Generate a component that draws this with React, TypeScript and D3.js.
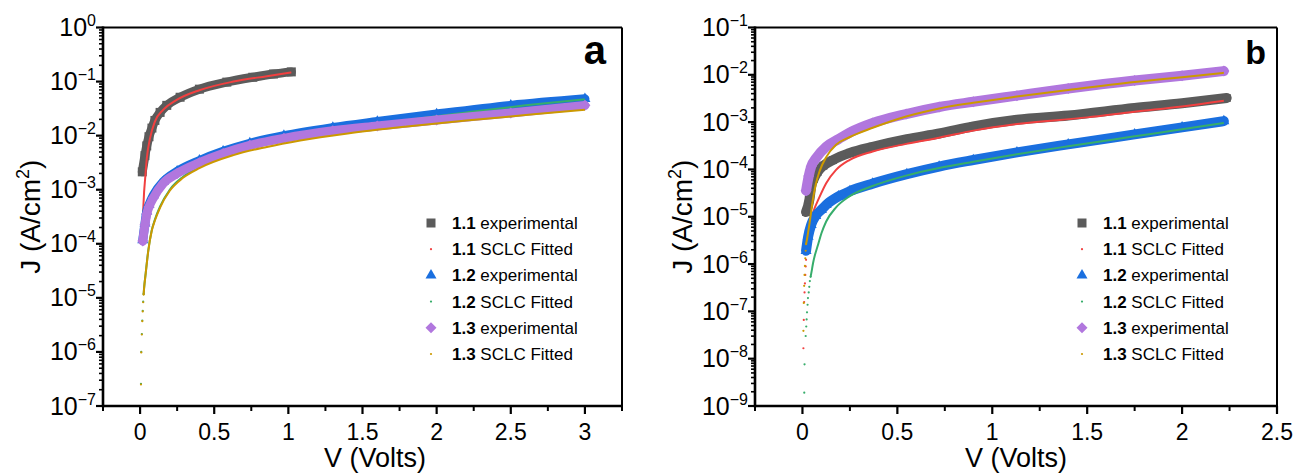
import React from 'react';
import * as d3 from 'd3';

type Pt = [number, number]; // [V (Volts), J (A/cm^2)]

// ---------------- Panel a ----------------
const a11Exp: Pt[] = [
  [0.015, 2.14e-3], [0.033, 4.27e-3], [0.045, 6.46e-3], [0.06, 9.55e-3], [0.08, 1.38e-2],
  [0.1, 1.91e-2], [0.135, 2.69e-2], [0.18, 3.63e-2], [0.27, 5.13e-2], [0.4, 7.24e-2],
  [0.585, 9.77e-2], [0.76, 0.12], [0.9, 0.138], [1.02, 0.151],
];
const a11FitDots: Pt[] = [];
const a11Fit: Pt[] = [
  [0.02, 3.72e-4], [0.027, 8.91e-4], [0.034, 1.58e-3], [0.045, 3.72e-3], [0.067, 8.91e-3],
  [0.1, 1.82e-2], [0.157, 3.02e-2], [0.247, 4.57e-2], [0.4, 6.92e-2], [0.63, 0.1],
  [0.855, 0.126], [1.02, 0.148],
];
const a12Exp: Pt[] = [
  [0.018, 1.17e-4], [0.033, 2.4e-4], [0.045, 3.98e-4], [0.06, 5.25e-4], [0.09, 7.94e-4],
  [0.157, 1.41e-3], [0.25, 2.19e-3], [0.4, 3.47e-3], [0.56, 5.13e-3], [0.74, 7.24e-3],
  [0.97, 1.0e-2], [1.3, 1.41e-2], [1.6, 1.82e-2], [2.0, 2.51e-2], [2.5, 3.63e-2], [3.0, 4.79e-2],
];
const a12FitDots: Pt[] = [
  [0.006, 2.57e-7], [0.008, 1.0e-6], [0.012, 2.14e-6], [0.015, 3.8e-6], [0.018, 5.75e-6],
  [0.021, 8.51e-6], [0.024, 1.17e-5],
];
const a12Fit: Pt[] = [
  [0.027, 1.51e-5], [0.038, 2.88e-5], [0.055, 7.41e-5], [0.078, 1.74e-4], [0.1, 2.82e-4],
  [0.135, 4.9e-4], [0.2, 1.0e-3], [0.29, 1.74e-3], [0.4, 2.69e-3], [0.63, 4.79e-3],
  [0.855, 7.08e-3], [1.08, 9.55e-3], [1.4, 1.35e-2], [1.8, 1.95e-2], [2.2, 2.69e-2],
  [2.6, 3.63e-2], [3.0, 4.68e-2],
];
const a13Exp: Pt[] = [
  [0.018, 1.12e-4], [0.033, 2.24e-4], [0.045, 3.55e-4], [0.06, 4.79e-4], [0.09, 7.08e-4],
  [0.157, 1.32e-3], [0.25, 2.0e-3], [0.4, 3.16e-3], [0.56, 4.68e-3], [0.74, 6.61e-3],
  [0.97, 8.91e-3], [1.3, 1.23e-2], [1.6, 1.51e-2], [2.0, 1.95e-2], [2.5, 2.63e-2], [3.0, 3.63e-2],
];
const a13FitDots: Pt[] = [
  [0.006, 2.5e-7], [0.008, 9.8e-7], [0.012, 2.1e-6], [0.015, 3.7e-6], [0.018, 5.6e-6],
  [0.021, 8.3e-6], [0.024, 1.15e-5],
];
const a13Fit: Pt[] = [
  [0.027, 1.48e-5], [0.038, 2.82e-5], [0.055, 7.24e-5], [0.078, 1.7e-4], [0.1, 2.69e-4],
  [0.135, 4.68e-4], [0.2, 9.55e-4], [0.29, 1.66e-3], [0.4, 2.51e-3], [0.63, 4.37e-3],
  [0.855, 6.17e-3], [1.08, 8.13e-3], [1.4, 1.1e-2], [1.8, 1.48e-2], [2.2, 1.91e-2],
  [2.6, 2.4e-2], [3.0, 3.02e-2],
];

// ---------------- Panel b ----------------
const b11Exp: Pt[] = [
  [0.019, 1.26e-5], [0.037, 2.34e-5], [0.046, 4.37e-5], [0.06, 6.31e-5], [0.08, 8.91e-5],
  [0.11, 1.2e-4], [0.16, 1.58e-4], [0.25, 2.24e-4], [0.37, 3.02e-4], [0.55, 4.37e-4],
  [0.72, 5.75e-4], [0.9, 8.13e-4], [1.13, 1.12e-3], [1.4, 1.38e-3], [1.75, 2.0e-3],
  [2.0, 2.51e-3], [2.235, 3.24e-3],
];
const b11FitDots: Pt[] = [
  [0.005, 1.66e-8], [0.007, 6.61e-8], [0.009, 1.58e-7], [0.011, 2.51e-7], [0.013, 3.89e-7],
  [0.015, 5.89e-7], [0.017, 8.91e-7], [0.019, 1.23e-6], [0.021, 1.7e-6], [0.023, 2.34e-6],
  [0.025, 3.24e-6],
];
const b11Fit: Pt[] = [
  [0.028, 4.17e-6], [0.037, 6.61e-6], [0.054, 1.17e-5], [0.09, 2.63e-5], [0.125, 5.13e-5],
  [0.177, 9.77e-5], [0.247, 1.58e-4], [0.37, 2.4e-4], [0.546, 3.47e-4], [0.72, 4.68e-4],
  [0.9, 6.61e-4], [1.13, 9.12e-4], [1.5, 1.26e-3], [1.75, 1.66e-3], [2.0, 2.14e-3],
  [2.22, 2.82e-3],
];
const b12Exp: Pt[] = [
  [0.019, 1.91e-6], [0.03, 3.8e-6], [0.046, 6.76e-6], [0.07, 1.05e-5], [0.1, 1.41e-5],
  [0.125, 1.78e-5], [0.19, 2.69e-5], [0.25, 3.47e-5], [0.37, 5.01e-5], [0.55, 7.94e-5],
  [0.72, 1.15e-4], [0.9, 1.58e-4], [1.13, 2.29e-4], [1.4, 3.39e-4], [1.75, 5.5e-4],
  [2.0, 7.76e-4], [2.22, 1.05e-3],
];
const b12FitDots: Pt[] = [
  [0.0095, 1.91e-9], [0.011, 7.59e-9], [0.017, 3.02e-8], [0.02, 4.79e-8], [0.022, 6.76e-8],
  [0.024, 9.55e-8], [0.027, 1.38e-7], [0.029, 1.91e-7], [0.033, 2.51e-7], [0.036, 3.31e-7],
  [0.039, 4.37e-7], [0.043, 5.37e-7],
];
const b12Fit: Pt[] = [
  [0.048, 6.92e-7], [0.056, 1.05e-6], [0.065, 1.51e-6], [0.083, 2.63e-6], [0.1, 4.47e-6],
  [0.125, 7.94e-6], [0.177, 1.58e-5], [0.247, 2.69e-5], [0.37, 4.47e-5], [0.546, 7.41e-5],
  [0.72, 1.07e-4], [0.9, 1.45e-4], [1.13, 2.09e-4], [1.4, 3.09e-4], [1.75, 5.01e-4],
  [2.0, 7.08e-4], [2.22, 9.55e-4],
];
const b13Exp: Pt[] = [
  [0.019, 3.55e-5], [0.033, 7.24e-5], [0.046, 1.15e-4], [0.072, 1.74e-4], [0.125, 3.02e-4],
  [0.19, 4.37e-4], [0.25, 6.03e-4], [0.37, 9.55e-4], [0.546, 1.48e-3], [0.72, 2.09e-3],
  [0.9, 2.69e-3], [1.13, 3.63e-3], [1.4, 5.13e-3], [1.75, 7.59e-3], [2.0, 9.55e-3],
  [2.22, 1.2e-2],
];
const b13FitDots: Pt[] = [
  [0.005, 3.89e-8], [0.007, 1.51e-7], [0.009, 3.47e-7], [0.011, 5.89e-7], [0.013, 9.12e-7],
  [0.015, 1.32e-6], [0.017, 1.91e-6], [0.019, 2.63e-6],
];
const b13Fit: Pt[] = [
  [0.025, 3.55e-6], [0.035, 6.31e-6], [0.045, 1.2e-5], [0.054, 2.19e-5], [0.07, 4.79e-5],
  [0.09, 9.12e-5], [0.125, 1.82e-4], [0.177, 3.31e-4], [0.247, 4.79e-4], [0.37, 7.59e-4],
  [0.546, 1.32e-3], [0.72, 1.95e-3], [0.9, 2.57e-3], [1.13, 3.47e-3], [1.4, 4.79e-3],
  [1.75, 7.08e-3], [2.0, 8.91e-3], [2.22, 1.1e-2],
];

// ---------------- Axes / legend text ----------------
const aXTicks = [0, 0.5, 1, 1.5, 2, 2.5, 3];
const aXDomain: [number, number] = [-0.25, 3.25];
const aYExponents = [0, -1, -2, -3, -4, -5, -6, -7];
const bXTicks = [0, 0.5, 1, 1.5, 2, 2.5];
const bXDomain: [number, number] = [-0.25, 2.5];
const bYExponents = [-1, -2, -3, -4, -5, -6, -7, -8, -9];
const legendIds = ['1.1', '1.1', '1.2', '1.2', '1.3', '1.3'];
const legendTexts = [' experimental', ' SCLC Fitted', ' experimental', ' SCLC Fitted', ' experimental', ' SCLC Fitted'];
const xTitle = 'V (Volts)';
const yTitle = 'J (A/cm';

const FONT = '"Liberation Sans", Arial, Helvetica, sans-serif';
const C = {
  gray: '#5b5b5b', red: '#f14040', blue: '#1a6fdf', green: '#37ad6b', purple: '#b177de', gold: '#cc9900',
};

type Kind = 'square' | 'triangle' | 'diamond';
interface Series { exp: Pt[]; dots: Pt[]; fit: Pt[]; color: string; fitColor: string; kind: Kind; }

function markerPath(kind: Kind, x: number, y: number, s: number): string {
  if (kind === 'square') {
    return `M${x - s / 2},${y - s / 2}h${s}v${s}h${-s}Z`;
  }
  if (kind === 'triangle') {
    const h = s * 0.87;
    return `M${x},${y - (2 * h) / 3}L${x + s / 2},${y + h / 3}L${x - s / 2},${y + h / 3}Z`;
  }
  const r = s / 2;
  return `M${x},${y - r}L${x + r},${y}L${x},${y + r}L${x - r},${y}Z`;
}

interface PanelProps {
  left: number; right: number; top: number; bottom: number;
  xDomain: [number, number]; xTicks: number[];
  yExp: number[];
  series: Series[];
  sizes: { square: number; triangle: number; diamond: number; band: number };
  legendX: number; letter: string; letterSize: number; letterX: number;
  yTitleX: number; xTitleX: number;
}

function Panel(p: PanelProps) {
  const x = d3.scaleLinear().domain(p.xDomain).range([p.left, p.right]);
  const yMax = Math.pow(10, d3.max(p.yExp)!);
  const yMin = Math.pow(10, d3.min(p.yExp)!);
  const y = d3.scaleLog().domain([yMin, yMax]).range([p.bottom, p.top]);
  const line = d3.line<Pt>().x(d => x(d[0])).y(d => y(d[1])).curve(d3.curveMonotoneX);

  const minorX: number[] = [];
  for (let v = p.xDomain[0]; v <= p.xDomain[1] + 1e-9; v += 0.5) minorX.push(v);
  const minorY: number[] = [];
  const eMin = d3.min(p.yExp)!, eMax = d3.max(p.yExp)!;
  for (let e = eMin; e < eMax; e++) for (let k = 2; k <= 9; k++) minorY.push(k * Math.pow(10, e));

  const rowY0 = 223, rowStep = 26.2;

  return (
    <g>
      {/* data */}
      {p.series.map((s, i) => (
        <g key={i}>
          <path d={line(s.exp) || ''} fill="none" stroke={s.color} strokeWidth={p.sizes.band}
            strokeLinejoin="round" strokeLinecap="round" />
          {s.exp.map((d, j) => (
            <path key={j} d={markerPath(s.kind, x(d[0]), y(d[1]), p.sizes[s.kind])} fill={s.color} />
          ))}
          {s.dots.map((d, j) => (
            <circle key={j} cx={x(d[0])} cy={y(d[1])} r={1.1} fill={s.fitColor} />
          ))}
          {s.fit.length > 0 && (
            <path d={line(s.dots.length ? [s.dots[s.dots.length - 1], ...s.fit] : s.fit) || ''}
              fill="none" stroke={s.fitColor} strokeWidth={2} />
          )}
        </g>
      ))}

      {/* frame */}
      <line x1={p.left} x2={p.right} y1={p.top} y2={p.top} stroke="#000" strokeWidth={2} />
      <line x1={p.right} x2={p.right} y1={p.top} y2={p.bottom} stroke="#000" strokeWidth={2} />
      <line x1={p.left} x2={p.right + 1} y1={p.bottom} y2={p.bottom} stroke="#000" strokeWidth={2.6} />
      <line x1={p.left} x2={p.left} y1={p.top - 1} y2={p.bottom + 1.3} stroke="#000" strokeWidth={2.6} />

      {/* x ticks */}
      {minorX.map((v, i) => (
        <line key={'mx' + i} x1={x(v)} x2={x(v)} y1={p.bottom} y2={p.bottom + 5} stroke="#000" strokeWidth={2} />
      ))}
      {p.xTicks.map(v => (
        <g key={'x' + v}>
          <line x1={x(v)} x2={x(v)} y1={p.bottom} y2={p.bottom + 8} stroke="#000" strokeWidth={2.2} />
          <text x={x(v)} y={440} textAnchor="middle" fontSize={23} fontFamily={FONT}>{String(v)}</text>
        </g>
      ))}

      {/* y ticks */}
      {minorY.map((v, i) => (
        <line key={'my' + i} x1={p.left - 4} x2={p.left} y1={y(v)} y2={y(v)} stroke="#000" strokeWidth={1.6} />
      ))}
      {p.yExp.map(e => {
        const yy = y(Math.pow(10, e));
        return (
          <g key={'y' + e}>
            <line x1={p.left - 7} x2={p.left} y1={yy} y2={yy} stroke="#000" strokeWidth={2.2} />
            <text x={p.left - 7} y={yy + 8.5} textAnchor="end" fontFamily={FONT} fontSize={25}>
              10<tspan fontSize={16} dy={-10}>{e === 0 ? '0' : `\u2212${-e}`}</tspan>
            </text>
          </g>
        );
      })}

      {/* titles */}
      <text x={p.xTitleX} y={467} textAnchor="middle" fontSize={27} fontFamily={FONT}>{xTitle}</text>
      <text transform={`translate(${p.yTitleX},${(p.top + p.bottom) / 2}) rotate(-90)`} textAnchor="middle"
        fontSize={28} fontFamily={FONT}>
        {yTitle}<tspan fontSize={18} dy={-11}>2</tspan><tspan dy={11}>)</tspan>
      </text>
      <text x={p.letterX} y={64} textAnchor="end" fontSize={p.letterSize} fontWeight="bold" fontFamily={FONT}>
        {p.letter}
      </text>

      {/* legend */}
      {legendIds.map((id, i) => {
        const ry = rowY0 + i * rowStep;
        const s = p.series[Math.floor(i / 2)];
        const isExp = i % 2 === 0;
        return (
          <g key={'lg' + i}>
            {isExp ? (
              <path d={markerPath(s.kind, p.legendX, ry, s.kind === 'square' ? 9 : 11)} fill={s.color} />
            ) : (
              <circle cx={p.legendX} cy={ry} r={1.1} fill={s.fitColor} />
            )}
            <text x={p.legendX + 21} y={ry + 6} fontSize={17} fontFamily={FONT}>
              <tspan fontWeight="bold">{id}</tspan>{legendTexts[i]}
            </text>
          </g>
        );
      })}
    </g>
  );
}

export default function App() {
  const aSeries: Series[] = [
    { exp: a11Exp, dots: a11FitDots, fit: a11Fit, color: C.gray, fitColor: C.red, kind: 'square' },
    { exp: a12Exp, dots: a12FitDots, fit: a12Fit, color: C.blue, fitColor: C.green, kind: 'triangle' },
    { exp: a13Exp, dots: a13FitDots, fit: a13Fit, color: C.purple, fitColor: C.gold, kind: 'diamond' },
  ];
  const bSeries: Series[] = [
    { exp: b11Exp, dots: b11FitDots, fit: b11Fit, color: C.gray, fitColor: C.red, kind: 'square' },
    { exp: b12Exp, dots: b12FitDots, fit: b12Fit, color: C.blue, fitColor: C.green, kind: 'triangle' },
    { exp: b13Exp, dots: b13FitDots, fit: b13Fit, color: C.purple, fitColor: C.gold, kind: 'diamond' },
  ];
  return (
    <svg width={1295} height={473} viewBox="0 0 1295 473"
      style={{ position: 'absolute', left: 0, top: 0, background: '#fff' }}>
      <rect x={0} y={0} width={1295} height={473} fill="#fff" />
      <Panel left={103} right={622} top={27.5} bottom={406} xDomain={aXDomain} xTicks={aXTicks}
        yExp={aYExponents} series={aSeries} sizes={{ square: 9, triangle: 11, diamond: 11, band: 9 }}
        legendX={431} letter="a" letterSize={40} letterX={606} yTitleX={40} xTitleX={375} />
      <Panel left={755} right={1277} top={27.5} bottom={406} xDomain={bXDomain} xTicks={bXTicks}
        yExp={bYExponents} series={bSeries} sizes={{ square: 8, triangle: 11, diamond: 11, band: 10 }}
        legendX={1082} letter="b" letterSize={34} letterX={1266} yTitleX={692} xTitleX={1016} />
    </svg>
  );
}
